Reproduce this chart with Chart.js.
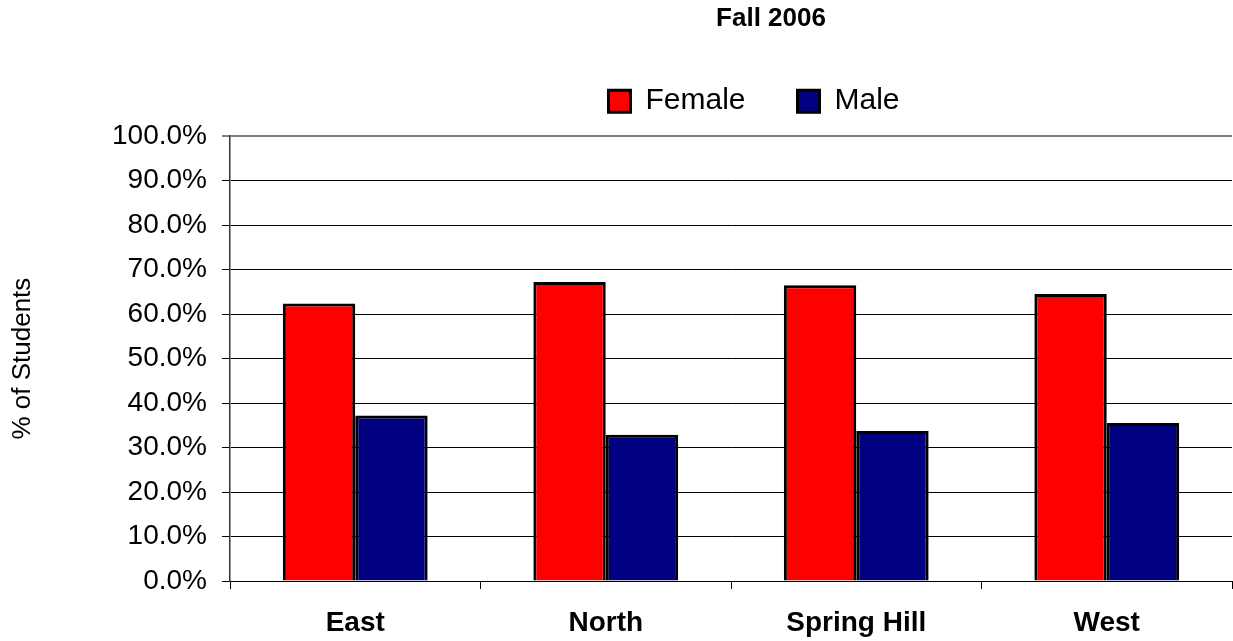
<!DOCTYPE html>
<html>
<head>
<meta charset="utf-8">
<title>Fall 2006</title>
<script src="https://cdn.jsdelivr.net/npm/chart.js@4/dist/chart.umd.min.js"></script>
<style>
  html, body { margin: 0; padding: 0; background: #fff; }
  #chart-bars { display: block; }
</style>
</head>
<body>
<canvas id="chart-bars" width="1233" height="641"></canvas>
<script>
//
// Data
//

var campuses = ["East", "North", "Spring Hill", "West"];
var femalePct = [62.4, 67.2, 66.5, 64.5];
var malePct = [37.2, 32.9, 33.7, 35.5];
var yTicks = [0, 10, 20, 30, 40, 50, 60, 70, 80, 90, 100];

var FONT = "'Liberation Sans', Arial, sans-serif";

//
// Bars chart
//

var BarsChart = (function () {
  var canvas = document.getElementById("chart-bars");

  // nudge title + legend off the canvas centre, like the original layout
  var shiftBlocks = {
    id: "shiftBlocks",
    afterLayout: function (chart) {
      var t = chart.titleBlock;
      if (t) { t.left += 155; t.right += 155; t.top += 1; t.bottom += 1; }
      var l = chart.legend;
      if (l) { l.left += 138; l.right += 138; l.top -= 10; l.bottom -= 10; }
    }
  };

  function initChart(canvas) {
    var chart = new Chart(canvas, {
      type: "bar",
      data: {
        labels: campuses,
        datasets: [
          {
            label: "Female",
            data: femalePct,
            backgroundColor: "#ff0000",
            borderColor: "#000000",
            borderWidth: 3
          },
          {
            label: "Male",
            data: malePct,
            backgroundColor: "#000080",
            borderColor: "#000000",
            borderWidth: 3
          }
        ]
      },
      options: {
        responsive: false,
        animation: false,
        layout: { padding: { top: 0, right: 1, bottom: 0, left: 0 } },
        datasets: {
          bar: { categoryPercentage: 0.578, barPercentage: 1.0 }
        },
        plugins: {
          tooltip: { enabled: false },
          title: {
            display: true,
            text: "Fall 2006",
            color: "#000",
            font: { family: FONT, size: 26, weight: "bold" },
            padding: { top: 2, bottom: 11 }
          },
          legend: {
            display: true,
            labels: {
              color: "#000",
              font: { family: FONT, size: 30 },
              boxWidth: 22,
              boxHeight: 22,
              padding: 52
            }
          }
        },
        scales: {
          x: {
            afterFit: function (scale) { scale.height = 60; },
            grid: {
              display: true,
              drawOnChartArea: false,
              offset: true,
              color: "#000",
              tickLength: 8
            },
            border: { color: "#000", width: 1 },
            ticks: {
              color: "#000",
              padding: 17,
              font: { family: FONT, size: 28, weight: "bold" }
            }
          },
          y: {
            min: 0,
            max: 100,
            afterFit: function (scale) { scale.width = 230; },
            afterBuildTicks: function (scale) {
              scale.ticks = yTicks.map(function (v) { return { value: v }; });
            },
            grid: {
              color: function (ctx) { return ctx.tick && ctx.tick.value === 100 ? "#808080" : "#000"; },
              lineWidth: function (ctx) { return ctx.tick && ctx.tick.value === 100 ? 2 : 1; },
              tickLength: 8
            },
            border: { color: "#333", width: 1.5 },
            ticks: {
              color: "#000",
              padding: 15,
              font: { family: FONT, size: 28 },
              callback: function (v) { return Number(v).toFixed(1) + "%"; }
            },
            title: {
              display: true,
              text: "% of Students",
              color: "#000",
              font: { family: FONT, size: 26 },
              padding: { top: 7, bottom: 0 }
            }
          }
        }
      },
      plugins: [shiftBlocks]
    });

    return chart;
  }

  return initChart(canvas);
})();
</script>
</body>
</html>
